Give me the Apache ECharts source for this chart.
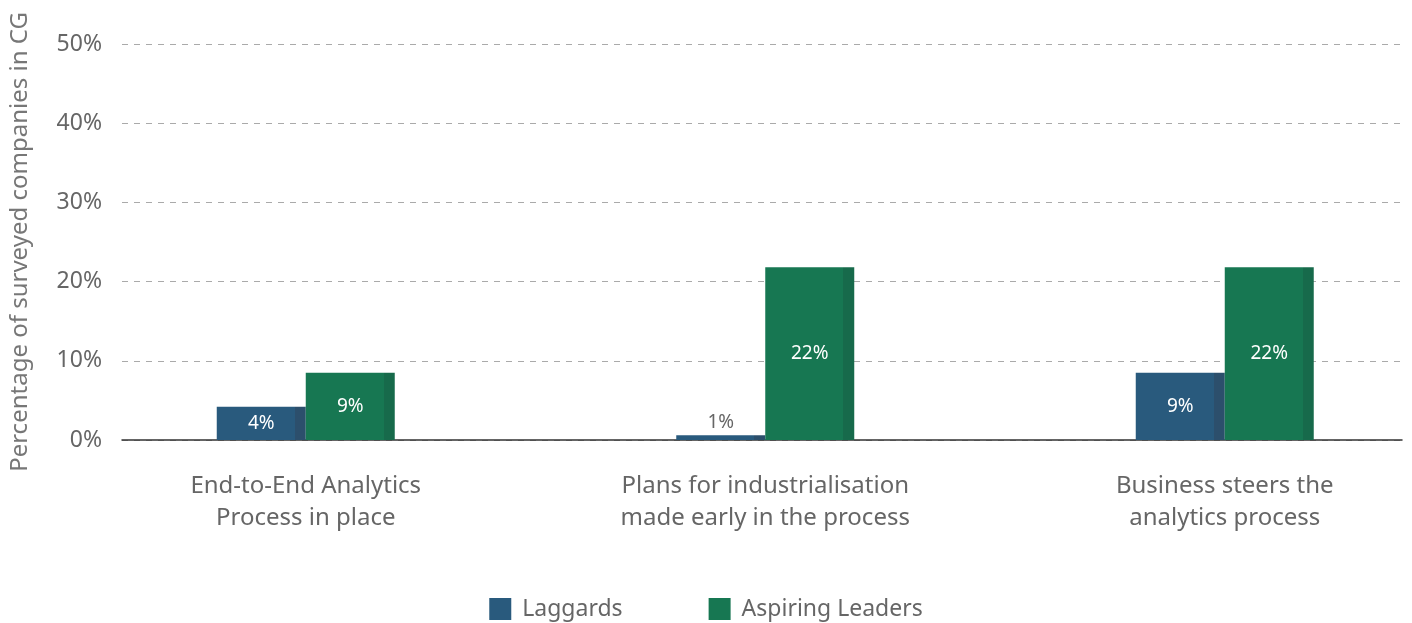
<!DOCTYPE html>
<html><head><meta charset="utf-8">
<script src="https://cdn.jsdelivr.net/npm/echarts@6/dist/echarts.min.js"></script>
<style>html,body{margin:0;padding:0;background:#fff}#c{width:1412px;height:623px}</style>
</head><body><div id="c"></div>
<script>
var categories = ['End-to-End Analytics\nProcess in place', 'Plans for industrialisation\nmade early in the process', 'Business steers the\nanalytics process'];
var laggards = [4.2, 0.6, 8.5];
var aspiring = [8.5, 21.8, 21.8];
var yTicks = [0, 10, 20, 30, 40, 50];
var seriesNames = ['Laggards', 'Aspiring Leaders'];

var FONT = '"Noto Sans", "Open Sans", sans-serif';
function grad(main, edge) {
  return new echarts.graphic.LinearGradient(0, 0, 1, 0, [
    {offset: 0, color: main}, {offset: 0.875, color: main},
    {offset: 0.875, color: edge}, {offset: 1, color: edge}
  ]);
}
function mkData(vals) {
  return vals.map(function (v) {
    if (v < 2) {
      return {value: v, label: {position: 'top', color: '#666', distance: 3}};
    }
    return v;
  });
}
var chart = echarts.init(document.getElementById('c'));
chart.setOption({
  animation: false,
  grid: [
    {left: 122, right: 10, top: 44, bottom: 183, outerBoundsMode: 'none', containLabel: false},
    {left: 76, width: 1378.5, top: 44, bottom: 183, outerBoundsMode: 'none', containLabel: false}
  ],
  xAxis: [
    {gridIndex: 0, type: 'category', data: ['a'], axisLine: {show: true, lineStyle: {color: '#333', width: 1.5}},
     axisTick: {show: false}, axisLabel: {show: false}},
    {gridIndex: 1, type: 'category', data: categories, axisLine: {show: false}, axisTick: {show: false},
     axisLabel: {margin: 30, fontFamily: FONT, fontSize: 24, color: '#666', lineHeight: 32}}
  ],
  yAxis: [
    {gridIndex: 0, type: 'value', min: 0, max: 50, interval: 10,
     name: 'Percentage of surveyed companies in CG', nameLocation: 'middle', nameGap: 90,
     nameTextStyle: {fontFamily: FONT, fontSize: 24, color: '#777'},
     axisLine: {show: false}, axisTick: {show: false},
     axisLabel: {margin: 20, fontFamily: FONT, fontSize: 23, color: '#666',
       formatter: function (v) { return yTicks.indexOf(v) >= 0 ? v + '%' : ''; }},
     splitLine: {show: true, lineStyle: {color: '#aaa', type: [6, 6], width: 1}}},
    {gridIndex: 1, type: 'value', min: 0, max: 50, interval: 10, show: false, splitLine: {show: false}}
  ],
  legend: {
    top: 594, left: 'center', padding: 0, itemWidth: 22, itemHeight: 22, itemGap: 86,
    textStyle: {fontFamily: FONT, fontSize: 23, color: '#666', padding: [0, 0, 0, 6], lineHeight: 30},
    data: [
      {name: seriesNames[0], icon: 'rect', itemStyle: {color: '#295A7D'}},
      {name: seriesNames[1], icon: 'rect', itemStyle: {color: '#177752'}}
    ]
  },
  series: [
    {name: seriesNames[0], type: 'bar', xAxisIndex: 1, yAxisIndex: 1, barWidth: 89, barGap: '0%',
     data: mkData(laggards), itemStyle: {color: grad('#295A7D', '#2C4F6C')},
     label: {show: true, position: 'inside', color: '#fff', fontFamily: FONT, fontSize: 19,
       formatter: function (p) { return Math.round(p.value) + '%'; }}},
    {name: seriesNames[1], type: 'bar', xAxisIndex: 1, yAxisIndex: 1, barWidth: 89, barGap: '0%',
     data: mkData(aspiring), itemStyle: {color: grad('#177752', '#176A4B')},
     label: {show: true, position: 'inside', color: '#fff', fontFamily: FONT, fontSize: 19,
       formatter: function (p) { return Math.round(p.value) + '%'; }}}
  ]
});
</script></body></html>
